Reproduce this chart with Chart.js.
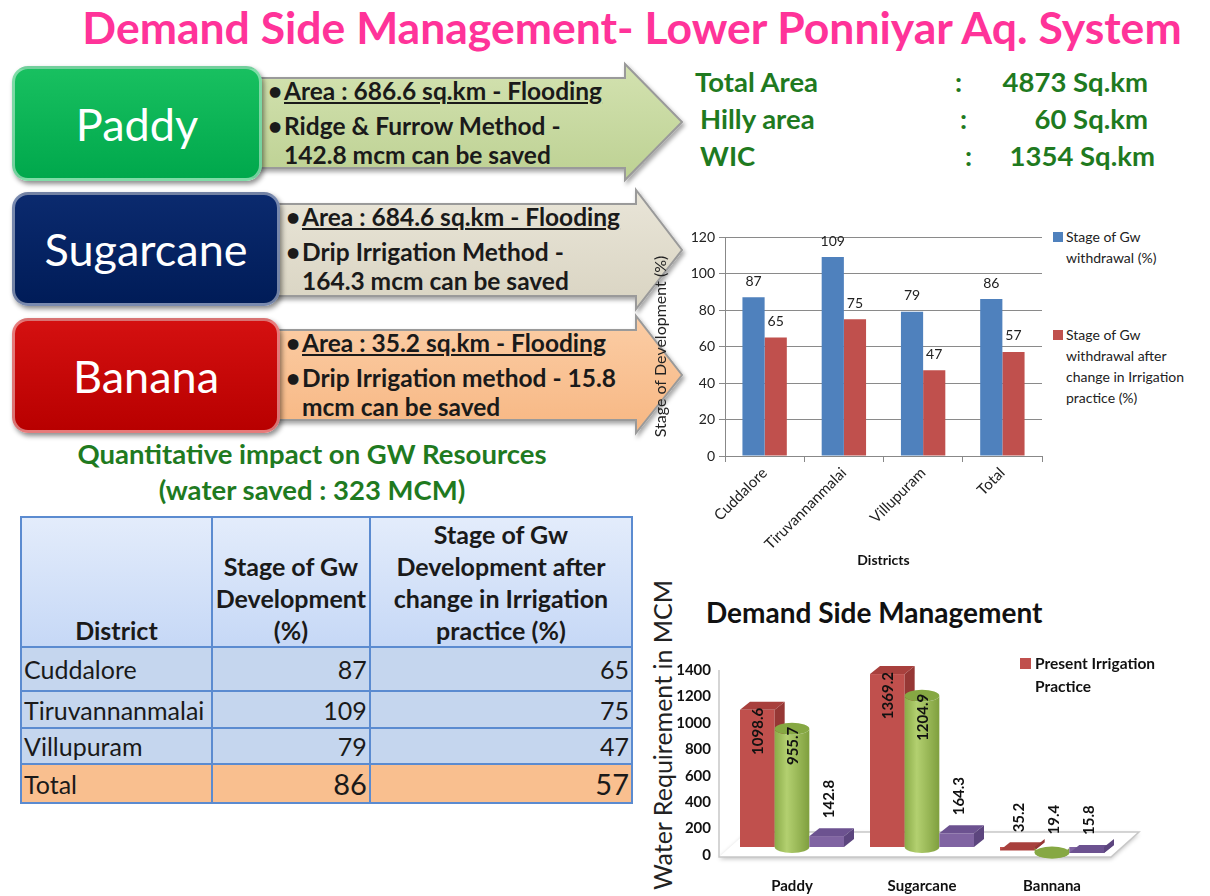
<!DOCTYPE html>
<html>
<head>
<meta charset="utf-8">
<script src="https://cdn.jsdelivr.net/npm/chart.js@4.4.1/dist/chart.umd.min.js"></script>
<style>
  body { margin:0; width:1210px; height:896px; background:#fff; position:relative; overflow:hidden; font-family: Lato, sans-serif; color:#1a1a1a; }
  .abs { position:absolute; }
  #title { left:0; top:0px; width:1264px; text-align:center; color:#ff3399; font-weight:bold; font-size:44.5px; white-space:nowrap; }
  .crop { display:flex; align-items:center; justify-content:center; color:#fff; font-size:45px; border-radius:16px;
          box-sizing:border-box; border:3px solid rgba(255,255,255,.45); box-shadow:2px 3px 5px rgba(0,0,0,.45); }
  .note { font-weight:bold; font-size:24.5px; line-height:29px; white-space:nowrap; }
  .note .b { position:absolute; left:0; }
  .note .t { padding-left:16px; }
  .note u { text-underline-offset:2px; text-decoration-thickness:2px; }
  .info { color:#1f7a1f; font-weight:bold; font-size:27.5px; white-space:nowrap; }
  .green { color:#1f7a1f; font-weight:bold; font-size:27.5px; text-align:center; white-space:nowrap; }
  table { border-collapse:collapse; font-size:25px; }
  td, th { border:2px solid #5b8bd0; padding:0 2px; }
  th { font-weight:bold; font-size:25px; line-height:32px; vertical-align:bottom; text-align:center;
       background:linear-gradient(#e3ecfb,#c6d8f6); }
  td { background:#c5d6ee; line-height:30px; }
  td.n { text-align:right; }
  tr.total td { background:#f9bf8f; }
  .leg { font-size:14px; line-height:21px; color:#222; white-space:nowrap; }
  .sw { position:absolute; width:10px; height:10px; }
</style>
</head>
<body>
<div id="title" class="abs">Demand Side Management- Lower Ponniyar Aq. System</div>

<svg class="abs" style="left:0;top:0" width="1210" height="896">
  <defs>
    <filter id="sh" x="-5%" y="-5%" width="115%" height="125%"><feDropShadow dx="2" dy="3" stdDeviation="2" flood-opacity="0.35"/></filter>
    <linearGradient id="gP" x1="0" y1="0" x2="0" y2="1"><stop offset="0" stop-color="#d3e2b0"/><stop offset="1" stop-color="#bdd193"/></linearGradient>
    <linearGradient id="gS" x1="0" y1="0" x2="0" y2="1"><stop offset="0" stop-color="#e9e5d8"/><stop offset="1" stop-color="#d9d4c2"/></linearGradient>
    <linearGradient id="gB" x1="0" y1="0" x2="0" y2="1"><stop offset="0" stop-color="#fbcda5"/><stop offset="1" stop-color="#f7b783"/></linearGradient>
  </defs>
  <g stroke="#9a9a9a" stroke-width="2" filter="url(#sh)">
    <polygon fill="url(#gP)" points="250,78 625,78 625,64 682,122 625,180 625,168 250,168"/>
    <polygon fill="url(#gS)" points="270,204 636,204 636,190 682,250 636,309 636,296 270,296"/>
    <polygon fill="url(#gB)" points="270,330 636,330 636,316 682,375 636,433 636,420 270,420"/>
  </g>
</svg>

<div class="abs crop" style="left:12px;top:66px;width:250px;height:115px;background:linear-gradient(#18c060,#00a84c);">Paddy</div>
<div class="abs crop" style="left:12px;top:192px;width:268px;height:114px;background:linear-gradient(#0b2a6e,#001c58);">Sugarcane</div>
<div class="abs crop" style="left:12px;top:318px;width:268px;height:115px;background:linear-gradient(#d41010,#b80000);">Banana</div>

<div class="abs note" style="left:268px;top:76px;">
  <div><span class="b">•</span><span class="t"><u>Area : 686.6 sq.km - Flooding</u></span></div>
  <div style="margin-top:6px"><span class="b">•</span><span class="t">Ridge &amp; Furrow Method -</span></div>
  <div><span class="t">142.8 mcm can be saved</span></div>
</div>
<div class="abs note" style="left:286px;top:202px;">
  <div><span class="b">•</span><span class="t"><u>Area : 684.6 sq.km - Flooding</u></span></div>
  <div style="margin-top:6px"><span class="b">•</span><span class="t">Drip Irrigation Method -</span></div>
  <div><span class="t">164.3 mcm can be saved</span></div>
</div>
<div class="abs note" style="left:286px;top:328px;">
  <div><span class="b">•</span><span class="t"><u>Area : 35.2 sq.km - Flooding</u></span></div>
  <div style="margin-top:6px"><span class="b">•</span><span class="t">Drip Irrigation method - 15.8</span></div>
  <div><span class="t">mcm can be saved</span></div>
</div>

<div class="abs info" style="left:695px;top:65px;">Total Area</div>
<div class="abs info" style="left:955px;top:65px;">:</div>
<div class="abs info" style="left:940px;top:65px;width:208px;text-align:right;">4873 Sq.km</div>
<div class="abs info" style="left:700px;top:102px;">Hilly area</div>
<div class="abs info" style="left:960px;top:102px;">:</div>
<div class="abs info" style="left:940px;top:102px;width:208px;text-align:right;">60 Sq.km</div>
<div class="abs info" style="left:700px;top:139px;">WIC</div>
<div class="abs info" style="left:965px;top:139px;">:</div>
<div class="abs info" style="left:945px;top:139px;width:210px;text-align:right;">1354 Sq.km</div>

<div class="abs green" style="left:12px;top:436px;width:600px;line-height:36px;">Quantitative impact on GW Resources<br>(water saved : 323 MCM)</div>

<table class="abs" id="gwTable" style="left:20px;top:516px;width:613px;">
  <colgroup><col style="width:191px"><col style="width:158px"><col style="width:264px"></colgroup>
  <thead><tr style="height:129px">
    <th>District</th>
    <th>Stage of Gw Development (%)</th>
    <th>Stage of Gw Development after change in Irrigation practice (%)</th>
  </tr></thead>
  <tbody></tbody>
</table>

<!-- withdrawal chart -->
<canvas id="stageChart" class="abs" style="left:643px;top:222px;"></canvas>
<div class="abs" id="stageLegend"></div>

<!-- demand chart -->
<div class="abs" style="left:706px;top:595px;font-size:28px;font-weight:bold;color:#111;white-space:nowrap;">Demand Side Management</div>
<div class="abs" style="left:662px;top:735px;transform:translate(-50%,-50%) rotate(-90deg);font-size:25px;color:#222;white-space:nowrap;">Water Requirement in MCM</div>
<canvas id="demandChart" class="abs" style="left:645px;top:640px;"></canvas>
<div class="abs" style="left:1020px;top:652px;font-size:15.5px;font-weight:bold;line-height:23px;color:#111;">
  <div class="sw" style="left:0;top:6px;width:11px;height:11px;background:#c0504d;"></div>
  <div style="padding-left:15px">Present Irrigation<br>Practice</div>
</div>

<script>
// groundwater stage by district
const districts = ['Cuddalore', 'Tiruvannanmalai', 'Villupuram', 'Total'];
const stageBefore = [87, 109, 79, 86];
const stageAfter = [65, 75, 47, 57];
const stageLabels = ['Stage of Gw withdrawal (%)', 'Stage of Gw withdrawal after change in Irrigation practice (%)'];
const stageTicks = [0, 20, 40, 60, 80, 100, 120];

// water requirement by crop (MCM)
const crops = ['Paddy', 'Sugarcane', 'Bannana'];
const presentPractice = [1098.6, 1369.2, 35.2];
const improvedPractice = [955.7, 1204.9, 19.4];
const waterSaved = [142.8, 164.3, 15.8];
const demandTicks = [0, 200, 400, 600, 800, 1000, 1200, 1400];

Chart.defaults.font.family = 'Lato, sans-serif';
Chart.defaults.animation = false;

// fill table
const tbody = document.querySelector('#gwTable tbody');
const rowHeights = [44, 37, 36, 39];
districts.forEach((d, i) => {
  const tr = document.createElement('tr');
  tr.style.height = rowHeights[i] + 'px';
  if (d === 'Total') tr.className = 'total';
  const big = d === 'Total' ? ' style="font-size:29px"' : '';
  tr.innerHTML = `<td>${d}</td><td class="n"${big}>${stageBefore[i]}</td><td class="n"${big}>${stageAfter[i]}</td>`;
  tbody.appendChild(tr);
});

// value labels above bars
const valueLabels = {
  id: 'valueLabels',
  afterDatasetsDraw(chart) {
    const ctx = chart.ctx;
    ctx.save();
    ctx.font = '14px Lato, sans-serif';
    ctx.fillStyle = '#222';
    ctx.textAlign = 'center';
    ctx.textBaseline = 'bottom';
    chart.data.datasets.forEach((ds, i) => {
      chart.getDatasetMeta(i).data.forEach((bar, j) => {
        ctx.fillText(ds.data[j], bar.x, bar.y - 9);
      });
    });
    ctx.restore();
  }
};

const stageColors = ['#4f81bd', '#c0504d'];
const c1 = document.getElementById('stageChart');
c1.width = 407; c1.height = 355;
new Chart(c1, {
  type: 'bar',
  data: {
    labels: districts,
    datasets: [
      { label: stageLabels[0], data: stageBefore, backgroundColor: stageColors[0] },
      { label: stageLabels[1], data: stageAfter, backgroundColor: stageColors[1] }
    ]
  },
  options: {
    responsive: false,
    layout: { padding: { left: 4, top: 15, right: 8, bottom: 4 } },
    datasets: { bar: { categoryPercentage: 0.56, barPercentage: 1 } },
    plugins: { legend: { display: false }, tooltip: { enabled: false } },
    scales: {
      x: {
        afterFit: s => { s.height = 117; },
        grid: { display: true, drawOnChartArea: false, color: '#888', tickLength: 6 },
        border: { color: '#888' },
        ticks: { color: '#222', font: { size: 15 }, minRotation: 45, maxRotation: 45, padding: 2 },
        title: { display: true, text: 'Districts', color: '#111', font: { size: 14, weight: 'bold' }, padding: { top: 0 } }
      },
      y: {
        min: 0, max: 120,
        afterBuildTicks: s => { s.ticks = stageTicks.map(v => ({ value: v })); },
        afterFit: s => { s.width = 78; },
        grid: { color: '#8a8a8a', tickLength: 6 },
        border: { color: '#888' },
        ticks: { color: '#222', font: { size: 14 }, padding: 4 },
        title: { display: true, text: 'Stage of Development (%)', color: '#222', font: { size: 16 }, padding: { bottom: 2 } }
      }
    }
  },
  plugins: [valueLabels]
});

// legend for withdrawal chart
const legendWrap = document.getElementById('stageLegend');
const legendLines = [['Stage of Gw', 'withdrawal (%)'], ['Stage of Gw', 'withdrawal after', 'change in Irrigation', 'practice (%)']];
const legendTops = [226, 324];
legendLines.forEach((lines, i) => {
  const item = document.createElement('div');
  item.className = 'abs leg';
  item.style.left = '1053px';
  item.style.top = legendTops[i] + 'px';
  item.innerHTML = `<div class="sw" style="left:0;top:6px;background:${stageColors[i]}"></div><div style="padding-left:13px">${lines.join('<br>')}</div>`;
  legendWrap.appendChild(item);
});

// pseudo-3D columns on a floor
const depth = { x: 10, y: 8 };
const faceColors = [
  { front: '#c0504d', top: '#a8403d', side: '#963735', shape: 'box' },
  { front: '#9bbb59', top: '#86a843', side: '#7d9b3f', shape: 'cyl' },
  { front: '#8064a2', top: '#6c5290', side: '#5c457e', shape: 'box' }
];

function poly(ctx, pts, fill) {
  ctx.beginPath();
  ctx.moveTo(pts[0][0], pts[0][1]);
  pts.slice(1).forEach(p => ctx.lineTo(p[0], p[1]));
  ctx.closePath();
  ctx.fillStyle = fill;
  ctx.fill();
}

function drawBox(ctx, l, r, top, base, c) {
  ctx.fillStyle = c.front;
  ctx.fillRect(l, top, r - l, base - top);
  poly(ctx, [[l, top], [l + depth.x, top - depth.y], [r + depth.x, top - depth.y], [r, top]], c.top);
  poly(ctx, [[r, top], [r + depth.x, top - depth.y], [r + depth.x, base - depth.y], [r, base]], c.side);
}

function drawCylinder(ctx, l, r, top, base, c) {
  const cx = (l + r) / 2, rx = (r - l) / 2, ry = 6;
  const g = ctx.createLinearGradient(l, 0, r, 0);
  g.addColorStop(0, '#8aab48'); g.addColorStop(0.35, '#b3d070'); g.addColorStop(1, '#7f9f3e');
  ctx.beginPath();
  ctx.moveTo(l, top);
  ctx.lineTo(l, base);
  ctx.ellipse(cx, base, rx, ry, 0, Math.PI, 0, true);
  ctx.lineTo(r, top);
  ctx.ellipse(cx, top, rx, ry, 0, 0, Math.PI, false);
  ctx.closePath();
  ctx.fillStyle = g;
  ctx.fill();
  ctx.beginPath();
  ctx.ellipse(cx, top, rx, ry, 0, 0, Math.PI * 2);
  ctx.fillStyle = c.top;
  ctx.fill();
}

const columns3d = {
  id: 'columns3d',
  beforeDatasetsDraw(chart) {
    const { ctx, chartArea } = chart;
    const y0 = chart.scales.y.getPixelForValue(0);
    const fl = chartArea.left - 8, fr = chartArea.right - 6;
    ctx.save();
    ctx.shadowColor = 'rgba(0,0,0,0.25)'; ctx.shadowBlur = 4; ctx.shadowOffsetY = 2;
    poly(ctx, [[fl, y0 + 2], [fr, y0 + 2], [fr + 28, y0 - 23], [fl + 28, y0 - 23]], '#fff');
    ctx.restore();
    ctx.save();
    ctx.strokeStyle = '#c8c8c8'; ctx.lineWidth = 1.5;
    ctx.beginPath();
    ctx.moveTo(fl, chartArea.top); ctx.lineTo(fl, y0 + 2); ctx.lineTo(fr, y0 + 2);
    ctx.lineTo(fr + 28, y0 - 23); ctx.lineTo(fl + 28, y0 - 23);
    ctx.stroke();
    ctx.restore();
  },
  beforeDatasetDraw() { return false; },
  afterDatasetsDraw(chart) {
    const ctx = chart.ctx;
    ctx.save();
    chart.data.datasets.forEach((ds, i) => {
      const c = faceColors[i];
      chart.getDatasetMeta(i).data.forEach(bar => {
        const l = bar.x - bar.width / 2, r = bar.x + bar.width / 2;
        const base = bar.base - 8;
        if (c.shape === 'cyl') drawCylinder(ctx, l, r, bar.y, base, c);
        else drawBox(ctx, l, r, bar.y, base, c);
      });
    });
    // rotated value labels
    ctx.font = 'bold 15px Lato, sans-serif';
    ctx.fillStyle = '#111';
    ctx.textBaseline = 'middle';
    chart.data.datasets.forEach((ds, i) => {
      chart.getDatasetMeta(i).data.forEach((bar, j) => {
        const v = ds.data[j];
        const text = v.toFixed(1);
        const inside = (bar.base - bar.y) > 60;
        ctx.save();
        if (inside) {
          ctx.translate(bar.x + 1, bar.y - 2);
          ctx.rotate(-Math.PI / 2);
          ctx.textAlign = 'right';
        } else {
          ctx.translate(bar.x + 2, bar.y - depth.y - 10);
          ctx.rotate(-Math.PI / 2);
          ctx.textAlign = 'left';
        }
        ctx.fillText(text, 0, 0);
        ctx.restore();
      });
    });
    ctx.restore();
  }
};

const c2 = document.getElementById('demandChart');
c2.width = 565; c2.height = 256;
new Chart(c2, {
  type: 'bar',
  data: {
    labels: crops,
    datasets: [
      { label: 'Present Irrigation Practice', data: presentPractice, backgroundColor: faceColors[0].front },
      { label: 'Changed Irrigation Practice', data: improvedPractice, backgroundColor: faceColors[1].front },
      { label: 'Water Saved', data: waterSaved, backgroundColor: faceColors[2].front }
    ]
  },
  options: {
    responsive: false,
    layout: { padding: { left: 20, top: 30, right: 93, bottom: 0 } },
    datasets: { bar: { categoryPercentage: 0.8, barPercentage: 1 } },
    plugins: { legend: { display: false }, tooltip: { enabled: false } },
    scales: {
      x: {
        afterFit: s => { s.height = 41; },
        grid: { display: false },
        border: { display: false },
        ticks: { color: '#111', font: { size: 15, weight: 'bold' }, padding: 14 }
      },
      y: {
        min: 0, max: 1400,
        afterBuildTicks: s => { s.ticks = demandTicks.map(v => ({ value: v })); },
        afterFit: s => { s.width = 62; },
        grid: { display: false },
        border: { display: false },
        ticks: { color: '#111', font: { size: 15, weight: 'bold' }, padding: 8, callback: v => String(v) }
      }
    }
  },
  plugins: [columns3d]
});
</script>
</body>
</html>
